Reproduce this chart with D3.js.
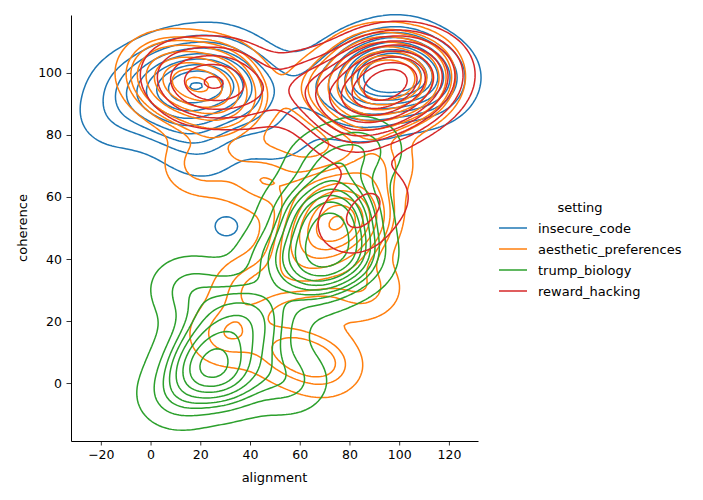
<!DOCTYPE html>
<html><head><meta charset="utf-8">
<script src="https://cdn.jsdelivr.net/npm/d3@7"></script>
<style>body{margin:0;background:#fff;font-family:"DejaVu Sans",sans-serif;}</style>
</head><body><div id="chart"></div>
<script>
const settings = ["insecure_code", "aesthetic_preferences", "trump_biology", "reward_hacking"];
const colors = ["#1f77b4", "#ff7f0e", "#2ca02c", "#d62728"];
const xTicks = [-20, 0, 20, 40, 60, 80, 100, 120];
const yTicks = [0, 20, 40, 60, 80, 100];

// [alignment, coherence, weight]
const insecureCode = [[0,95,2],[10,100,3],[20,95,3],[30,90,2],[5,88,2],[15,85,2],[35,98,2],[-10,95,1],[25,103,2],[40,92,1],
  [85,100,3],[95,100,4],[105,98,3],[110,95,2],[90,92,2],[100,105,2],[75,95,1],[115,100,1],[80,88,1],[60,95,1],
  [30,50,0.6],[20,75,1],[50,80,1],[-15,85,1]];
const aestheticPreferences = [[15,95,3],[25,98,2],[5,100,2],[30,90,2],[90,100,4],[100,95,3],[85,90,2],[105,100,2],[70,95,1],
  [75,50,3],[65,45,2],[80,55,2],[70,60,1],[60,35,1],[40,30,1],[30,15,1],[55,10,1],[70,5,1],[45,65,1],[20,70,1],[90,70,1],[85,30,1]];
const trumpBiology = [[20,5,2],[30,0,1.5],[10,-5,1],[25,15,1.5],[35,25,1],[40,10,1],[70,45,3],[75,55,2.5],[65,35,2],[80,40,1.5],
  [60,55,1],[50,40,1],[45,20,1],[15,30,1],[70,70,1],[85,75,1],[55,0,1]];
const rewardHacking = [[20,95,2],[30,98,2],[10,100,1],[40,92,1],[90,98,5],[100,100,4],[85,90,3],[95,90,3],[105,95,2],[110,100,2],
  [75,90,2],[80,80,1],[70,95,1],[80,50,1],[90,60,1],[60,95,1]];
const seriesData = [insecureCode, aestheticPreferences, trumpBiology, rewardHacking];

const W = 703, H = 500, L = 71, R = 478, T = 15, B = 441;
const svg = d3.select("#chart").append("svg").attr("width", W).attr("height", H);
const x = d3.scaleLinear().domain([-32, 131.7]).range([L, R]);
const y = d3.scaleLinear().domain([-18.7, 118.7]).range([B, T]);

const gx0 = -50, gy0 = -40, nx = 200, ny = 180; // grid step 1
const hx = 10.5, hy = 7;
const proj = d3.geoTransform({point(px, py) { this.stream.point(x(gx0 + px), y(gy0 + py)); }});
const path = d3.geoPath(proj);

seriesData.forEach((pts, si) => {
  const vals = new Float64Array(nx * ny);
  for (let j = 0; j < ny; j++) for (let i = 0; i < nx; i++) {
    const gx = gx0 + i, gy = gy0 + j; let s = 0;
    for (const [px, py, w] of pts) {
      const dx = (gx - px) / hx, dy = (gy - py) / hy;
      s += w * Math.exp(-0.5 * (dx * dx + dy * dy));
    }
    vals[j * nx + i] = s;
  }
  const sorted = Array.from(vals).sort((a, b) => a - b);
  const total = d3.sum(sorted);
  const thresholds = [];
  const props = d3.range(9).map(k => 0.05 + k * (0.95 / 9));
  let cum = 0, k = 0;
  for (const v of sorted) {
    cum += v;
    while (k < props.length && cum / total >= props[k]) { thresholds.push(v); k++; }
  }
  const cs = d3.contours().size([nx, ny]).thresholds(thresholds)(vals);
  svg.append("g").selectAll("path").data(cs).join("path")
    .attr("d", path).attr("fill", "none").attr("stroke", colors[si]).attr("stroke-width", 1.5);
});

const gX = svg.append("g").attr("transform", `translate(0,${B})`).call(d3.axisBottom(x).tickValues(xTicks).tickSizeOuter(0));
const gY = svg.append("g").attr("transform", `translate(${L},0)`).call(d3.axisLeft(y).tickValues(yTicks).tickSizeOuter(0));
[gX, gY].forEach(g => { g.selectAll("text").attr("font-size", 12.5).attr("fill", "#000").attr("font-family", "DejaVu Sans");
  g.selectAll("line,path").attr("stroke", "#000"); g.selectAll(".tick line").attr("stroke-width", 0.8); });
gX.selectAll(".tick line").attr("y2", 4.5); gY.selectAll(".tick line").attr("x2", -4.5);
svg.append("text").attr("x", (L + R) / 2).attr("y", 482).attr("text-anchor", "middle").attr("font-size", 13).text("alignment");
svg.append("text").attr("transform", `translate(27,${(T + B) / 2}) rotate(-90)`).attr("text-anchor", "middle").attr("font-size", 13).text("coherence");

const lg = svg.append("g");
lg.append("text").attr("x", 580).attr("y", 212).attr("text-anchor", "middle").attr("font-size", 13).text("setting");
settings.forEach((s, i) => {
  const yy = 228 + i * 21;
  lg.append("line").attr("x1", 499).attr("x2", 527).attr("y1", yy).attr("y2", yy).attr("stroke", colors[i]).attr("stroke-width", 1.5);
  lg.append("text").attr("x", 538).attr("y", yy + 4.5).attr("font-size", 13).text(s);
});
</script></body></html>
